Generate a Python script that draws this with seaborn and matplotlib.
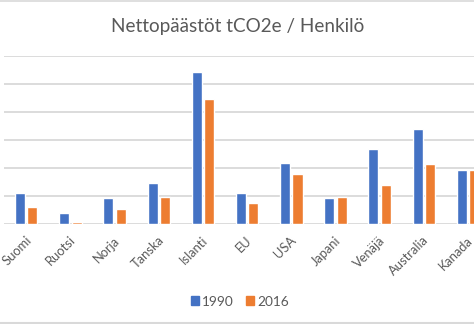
import matplotlib
matplotlib.use("Agg")
import matplotlib.pyplot as plt
import matplotlib.transforms as mtransforms
import seaborn as sns
import pandas as pd
from matplotlib.lines import Line2D

categories = ["Suomi", "Ruotsi", "Norja", "Tanska", "Islanti", "EU", "USA",
              "Japani", "Venäjä", "Australia", "Kanada"]
v1990 = [11.3, 4.15, 9.5, 14.6, 54.1, 11.3, 21.9, 9.5, 26.8, 33.8, 19.2]
v2016 = [6.2, 0.83, 5.3, 9.7, 44.7, 7.7, 17.9, 9.85, 13.9, 21.5, 19.2]
years = ["1990", "2016"]
colors = ["#4472C4", "#ED7D31"]
title = "Nettopäästöt tCO2e / Henkilö"

df = pd.DataFrame({
    "Maa": categories * 2,
    "Vuosi": [years[0]] * len(categories) + [years[1]] * len(categories),
    "Arvo": v1990 + v2016,
})

sns.set_theme(style="white")
plt.rcParams["font.family"] = ["Lato", "DejaVu Sans"]
text_color = "#595959"
grid_color = "#D9D9D9"

fig = plt.figure(figsize=(4.74, 3.24), dpi=100)
ax = fig.add_axes([4.2 / 474, 1 - 224.3 / 324, 485.9 / 474, (224.3 - 55.7) / 324])

sns.barplot(data=df, x="Maa", y="Arvo", hue="Vuosi", order=categories,
            hue_order=years, palette=colors, width=0.56, gap=0.19,
            saturation=1, ax=ax, legend=False, errorbar=None)

ax.set_xlim(-0.5, len(categories) - 0.5)
ax.set_ylim(0, 60)
ax.set_yticks(range(0, 61, 10))
ax.yaxis.grid(True, color=grid_color, linewidth=1.3)
ax.set_axisbelow(True)
for s in ax.spines.values():
    s.set_visible(False)
ax.set_yticklabels([])
ax.tick_params(axis="y", length=0)
ax.set_xlabel("")
ax.set_ylabel("")
ax.set_xticks(range(len(categories)))
ax.set_xticklabels(categories, rotation=45, ha="right", rotation_mode="anchor",
                   fontsize=9.3, color=text_color)
ax.tick_params(axis="x", length=0, pad=7)
offset = mtransforms.ScaledTranslation(-1.2 / 100, 0, fig.dpi_scale_trans)
for lbl in ax.get_xticklabels():
    lbl.set_transform(lbl.get_transform() + offset)

fig.text(237.7 / 474, 1 - 26.5 / 324, title, ha="center", va="center",
         fontsize=13.6, color=text_color)

handles = [plt.Rectangle((0, 0), 1, 1, color=c) for c in colors]
fig.legend(handles, years, loc="center", bbox_to_anchor=(240 / 474, 1 - 301.5 / 324),
           ncol=2, frameon=False, fontsize=9.8, labelcolor=text_color,
           handlelength=0.6, handleheight=0.6, handletextpad=0.2,
           columnspacing=0.9, borderaxespad=0)

# chart border lines (top and bottom)
fig.add_artist(Line2D([0, 1], [1 - 0.5 / 324, 1 - 0.5 / 324], color=grid_color,
                      linewidth=1.2, transform=fig.transFigure))
fig.add_artist(Line2D([0, 1], [1 - 322.5 / 324, 1 - 322.5 / 324], color=grid_color,
                      linewidth=1.5, transform=fig.transFigure))

fig.savefig("out.png", dpi=100)
